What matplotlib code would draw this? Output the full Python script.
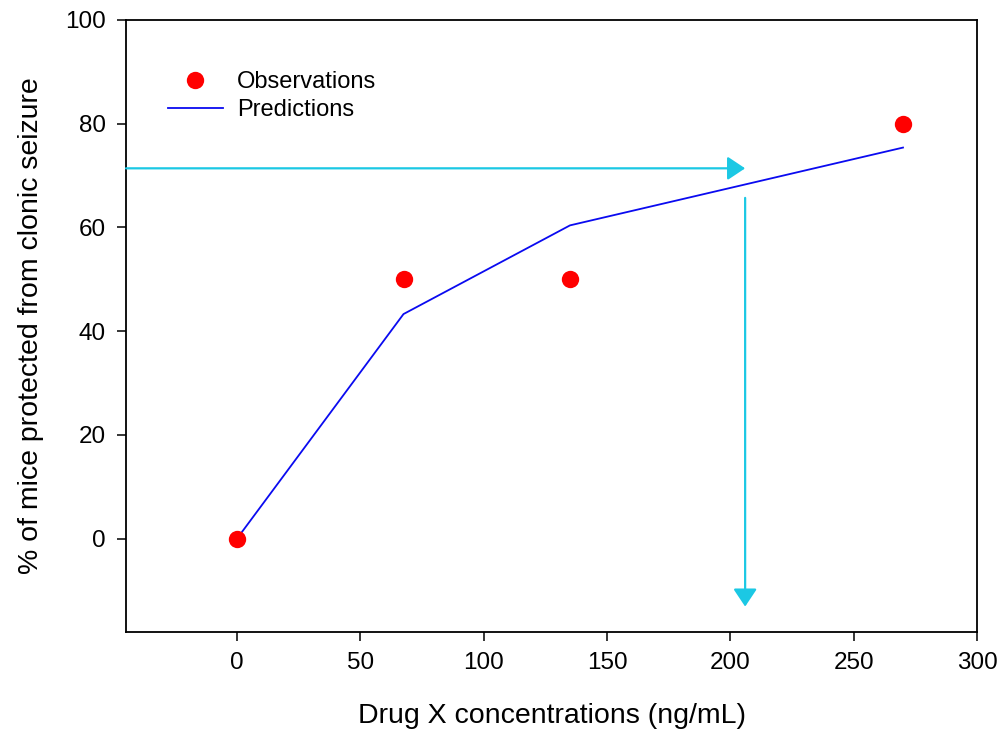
import matplotlib.pyplot as plt

# chart values
conc = [0, 67.5, 135, 270]
observed = [0, 50, 50, 80]
predicted = [0, 43.3, 60.4, 75.4]
target_pct = 71.4      # level read across to the curve
target_conc = 206      # concentration read down from the curve
arrow_start_pct = 65.7
arrow_end_pct = -13.1

x_ticks = [0, 50, 100, 150, 200, 250, 300]
y_ticks = [0, 20, 40, 60, 80, 100]

plt.rcParams['font.family'] = ['Liberation Sans', 'DejaVu Sans']

fig = plt.figure(figsize=(10, 7.32), dpi=100)
ax = fig.add_axes([0.126, 0.1366, 0.851, 0.8361])

cyan = '#1bc8e4'
ax.plot(conc, predicted, color='#0a0af0', lw=1.3, label='Predictions', zorder=2)
ax.plot(conc, observed, 'o', color='#ff0000', ms=12.5, mec='none', label='Observations', zorder=3)

head = '-|>,head_length=0.6,head_width=0.4'
ax.annotate('', xy=(target_conc, target_pct), xytext=(-45, target_pct),
            arrowprops=dict(arrowstyle=head, color=cyan, lw=1.6, mutation_scale=18,
                            shrinkA=0, shrinkB=0))
ax.annotate('', xy=(target_conc, arrow_end_pct), xytext=(target_conc, arrow_start_pct),
            arrowprops=dict(arrowstyle=head, color=cyan, lw=1.6, mutation_scale=18,
                            shrinkA=0, shrinkB=0))

ax.set_xlim(-45, 300)
ax.set_ylim(-18, 100)
ax.set_xticks(x_ticks)
ax.set_yticks(y_ticks)
ax.tick_params(direction='out', length=6.5, width=1.1, pad=8, labelsize=17.5)
for s in ax.spines.values():
    s.set_linewidth(1.3)

ax.set_xlabel('Drug X concentrations (ng/mL)', fontsize=20.5, labelpad=21)
ax.set_ylabel('% of mice protected from clonic seizure', fontsize=20.5, labelpad=15)

handles, labels = ax.get_legend_handles_labels()
ax.legend(handles[::-1], labels[::-1], loc='upper left', bbox_to_anchor=(0.049, 0.916),
          frameon=False, fontsize=17, borderpad=0, borderaxespad=0,
          handlelength=2.33, handletextpad=0.6, labelspacing=0.25, numpoints=1)

fig.savefig('out.png', dpi=100)
